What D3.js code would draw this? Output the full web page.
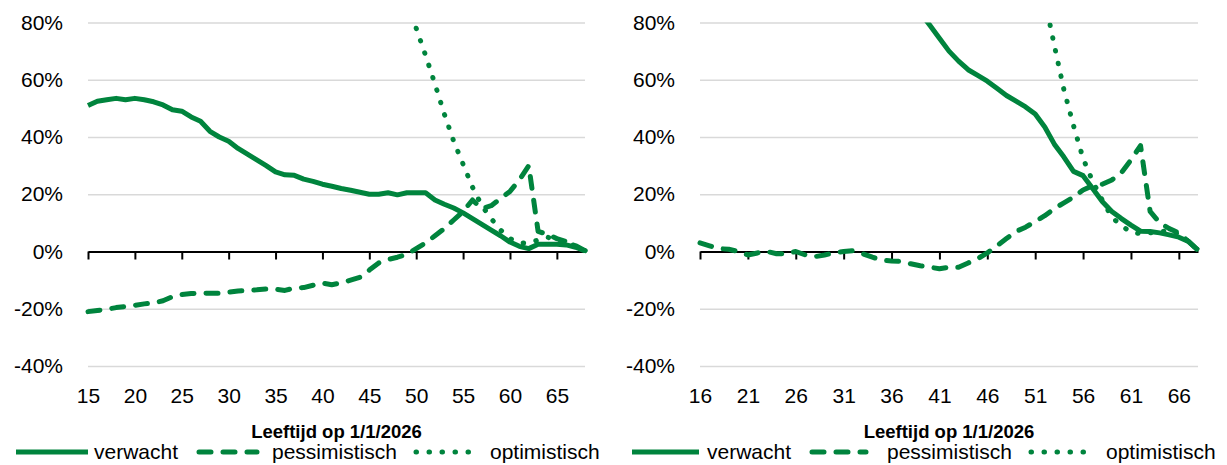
<!DOCTYPE html>
<html>
<head>
<meta charset="utf-8">
<script src="https://cdn.jsdelivr.net/npm/d3@7"></script>
<style>
body { margin: 0; background: #fff; }
svg { display: block; font-family: "Liberation Sans", Arial, sans-serif; }
</style>
</head>
<body>
<svg width="1227" height="465"></svg>
<script>
// left panel: age 15..68
var leftAges = [15,16,17,18,19,20,21,22,23,24,25,26,27,28,29,30,31,32,33,34,35,36,37,38,39,40,41,42,43,44,45,46,47,48,49,50,51,52,53,54,55,56,57,58,59,60,61,62,63,64,65,66,67,68];
var leftVerwacht = [51,52.5,53,53.5,53,53.5,53,52.3,51.2,49.5,49,47,45.5,42,40,38.5,36,34,32,30,27.8,26.8,26.6,25.3,24.5,23.5,22.8,22,21.4,20.7,20,20,20.5,19.8,20.5,20.5,20.5,18,16.5,15.2,13.5,11.5,9.5,7.5,5.5,3.3,1.8,1,2.5,2.5,2.5,2.3,1.5,0.2];
var leftPessimistisch = [-21,-20.6,-20.2,-19.6,-19.2,-18.8,-18.3,-18,-17.2,-15.8,-15,-14.7,-14.5,-14.6,-14.6,-14.2,-13.8,-13.6,-13.4,-13.1,-13.2,-13.6,-12.8,-12.6,-11.8,-11,-11.6,-11,-10,-9,-6.5,-4,-2.8,-2,-1,1,3,5.5,8,11,14,18,15,16,18.5,21,25,30,7,6,4.5,3.5,2,0.3];
var leftOptAges = [50,51,52,53,54,55,56,57,58,59,60,61,62,63,64,65,66,67,68];
var leftOptimistisch = [78,68.5,58.5,48,38.5,30.5,22.5,16,11.5,7.5,4.5,3,3,4,5,4,3,2,0.3];
var leftTicks = [15,20,25,30,35,40,45,50,55,60,65];

// right panel: age 16..68
var rightAges = [16,17,18,19,20,21,22,23,24,25,26,27,28,29,30,31,32,33,34,35,36,37,38,39,40,41,42,43,44,45,46,47,48,49,50,51,52,53,54,55,56,57,58,59,60,61,62,63,64,65,66,67,68];
var rightPessimistisch = [3,2,1,0.8,0,-1.2,-0.5,0,-0.8,-0.8,0,-1.2,-1.8,-1.2,-0.5,0,0.3,-0.8,-2,-3,-3.3,-3.5,-4.3,-5,-5.5,-6,-5.5,-5.5,-4,-2.5,-0.5,2,4.5,7,8.5,10.5,12.5,15,17,19,21.5,23,23.5,25,27.5,32,37,14,10,8,6.5,3.5,0.5];
var rightVerwAges = [38,39,40,41,42,43,44,45,46,47,48,49,50,51,52,53,54,55,56,57,58,59,60,61,62,63,64,65,66,67,68];
var rightVerwacht = [88,83.5,79,74.5,70,66.5,63.5,61.5,59.5,57,54.5,52.5,50.5,48,43.5,37.5,33,28,26.5,22,17.5,14,11.5,9.2,7.1,7,6.5,5.8,5,3.5,0.5];
var rightOptAges = [52,53,54,55,56,57,58,59,60,61,62,63,64,65,66,67,68];
var rightOptimistisch = [88,72,56.5,44,32.5,24.5,18,12,9,6.8,6.2,6.5,7,7.2,6,3.5,0.5];
var rightTicks = [16,21,26,31,36,41,46,51,56,61,66];

var yTicks = [-40,-20,0,20,40,60,80];
var seriesNames = ["verwacht", "pessimistisch", "optimistisch"];
var axisTitle = "Leeftijd op 1/1/2026";

var svg = d3.select("svg");
var green = "#00843d";
var dashes = [null, "12,12", "0.5,12.5"];

function zip(ages, vals) {
    return ages.map(function(a, i) { return { age: a, v: vals[i] }; });
}

function drawChart(opt) {
    var x = d3.scaleLinear().domain([opt.ages[0], 68]).range([opt.x0, opt.x1]);
    var y = d3.scaleLinear().domain([-40, 80]).range([366, 22.5]);
    var g = svg.append("g");

    // gridlines + y labels
    g.append("g")
        .attr("transform", "translate(" + opt.x0 + ",0)")
        .call(d3.axisLeft(y).tickValues(yTicks).tickSize(-(opt.x1 - opt.x0)).tickPadding(25)
            .tickFormat(function(d) { return d + "%"; }))
        .call(function(s) {
            s.select(".domain").remove();
            s.selectAll(".tick line")
                .attr("stroke", function(d) { return d === 0 ? "none" : "#d9d9d9"; })
                .attr("stroke-width", 1.5);
            s.selectAll(".tick text").attr("font-size", 21).attr("fill", "#000");
        });

    // zero axis with tick marks
    g.append("g")
        .attr("transform", "translate(0," + y(0) + ")")
        .call(d3.axisBottom(x).tickValues(opt.ticks).tickSize(8).tickSizeOuter(0).tickFormat(""))
        .call(function(s) {
            s.select(".domain").attr("stroke", "#000").attr("stroke-width", 2);
            s.selectAll(".tick line").attr("stroke", "#000").attr("stroke-width", 2);
        });

    // tick labels at the bottom
    g.append("g")
        .attr("transform", "translate(0,388)")
        .call(d3.axisBottom(x).tickValues(opt.ticks).tickSize(0).tickPadding(0))
        .call(function(s) {
            s.select(".domain").remove();
            s.selectAll(".tick text").attr("font-size", 21).attr("fill", "#000");
        });

    g.append("text")
        .attr("x", (opt.x0 + opt.x1) / 2)
        .attr("y", 438)
        .attr("text-anchor", "middle")
        .attr("font-size", 18.5)
        .attr("font-weight", "bold")
        .text(axisTitle);

    var clipId = "clip" + opt.x0;
    svg.append("clipPath").attr("id", clipId)
        .append("rect")
        .attr("x", opt.x0 - 5).attr("y", y(80))
        .attr("width", opt.x1 - opt.x0 + 10).attr("height", y(-40) - y(80));

    var line = d3.line().x(function(d) { return x(d.age); }).y(function(d) { return y(d.v); });
    var plot = g.append("g").attr("clip-path", "url(#" + clipId + ")");

    opt.series.forEach(function(s, i) {
        plot.append("path")
            .datum(s)
            .attr("d", line)
            .attr("fill", "none")
            .attr("stroke", green)
            .attr("stroke-width", 5)
            .attr("stroke-linecap", i === 0 ? "butt" : "round")
            .attr("stroke-linejoin", "round")
            .attr("stroke-dasharray", dashes[i]);
    });

    // legend
    var lg = g.append("g");
    seriesNames.forEach(function(name, i) {
        lg.append("line")
            .attr("x1", opt.legX[i]).attr("x2", opt.legX[i] + opt.legLen[i])
            .attr("y1", 452).attr("y2", 452)
            .attr("stroke", green)
            .attr("stroke-width", 5)
            .attr("stroke-linecap", i === 0 ? "butt" : "round")
            .attr("stroke-dasharray", dashes[i]);
        lg.append("text")
            .attr("x", opt.legText[i])
            .attr("y", 459)
            .attr("font-size", 21)
            .attr("fill", "#000")
            .text(name);
    });
}

drawChart({
    ages: leftAges, x0: 88, x1: 585, ticks: leftTicks,
    series: [zip(leftAges, leftVerwacht), zip(leftAges, leftPessimistisch), zip(leftOptAges, leftOptimistisch)],
    legX: [16, 199, 416], legLen: [72, 58, 56], legText: [94, 272, 490]
});

drawChart({
    ages: rightAges, x0: 700, x1: 1198, ticks: rightTicks,
    series: [zip(rightVerwAges, rightVerwacht), zip(rightAges, rightPessimistisch), zip(rightOptAges, rightOptimistisch)],
    legX: [632, 812, 1031], legLen: [67, 54, 58], legText: [707, 887, 1106]
});
</script>
</body>
</html>
